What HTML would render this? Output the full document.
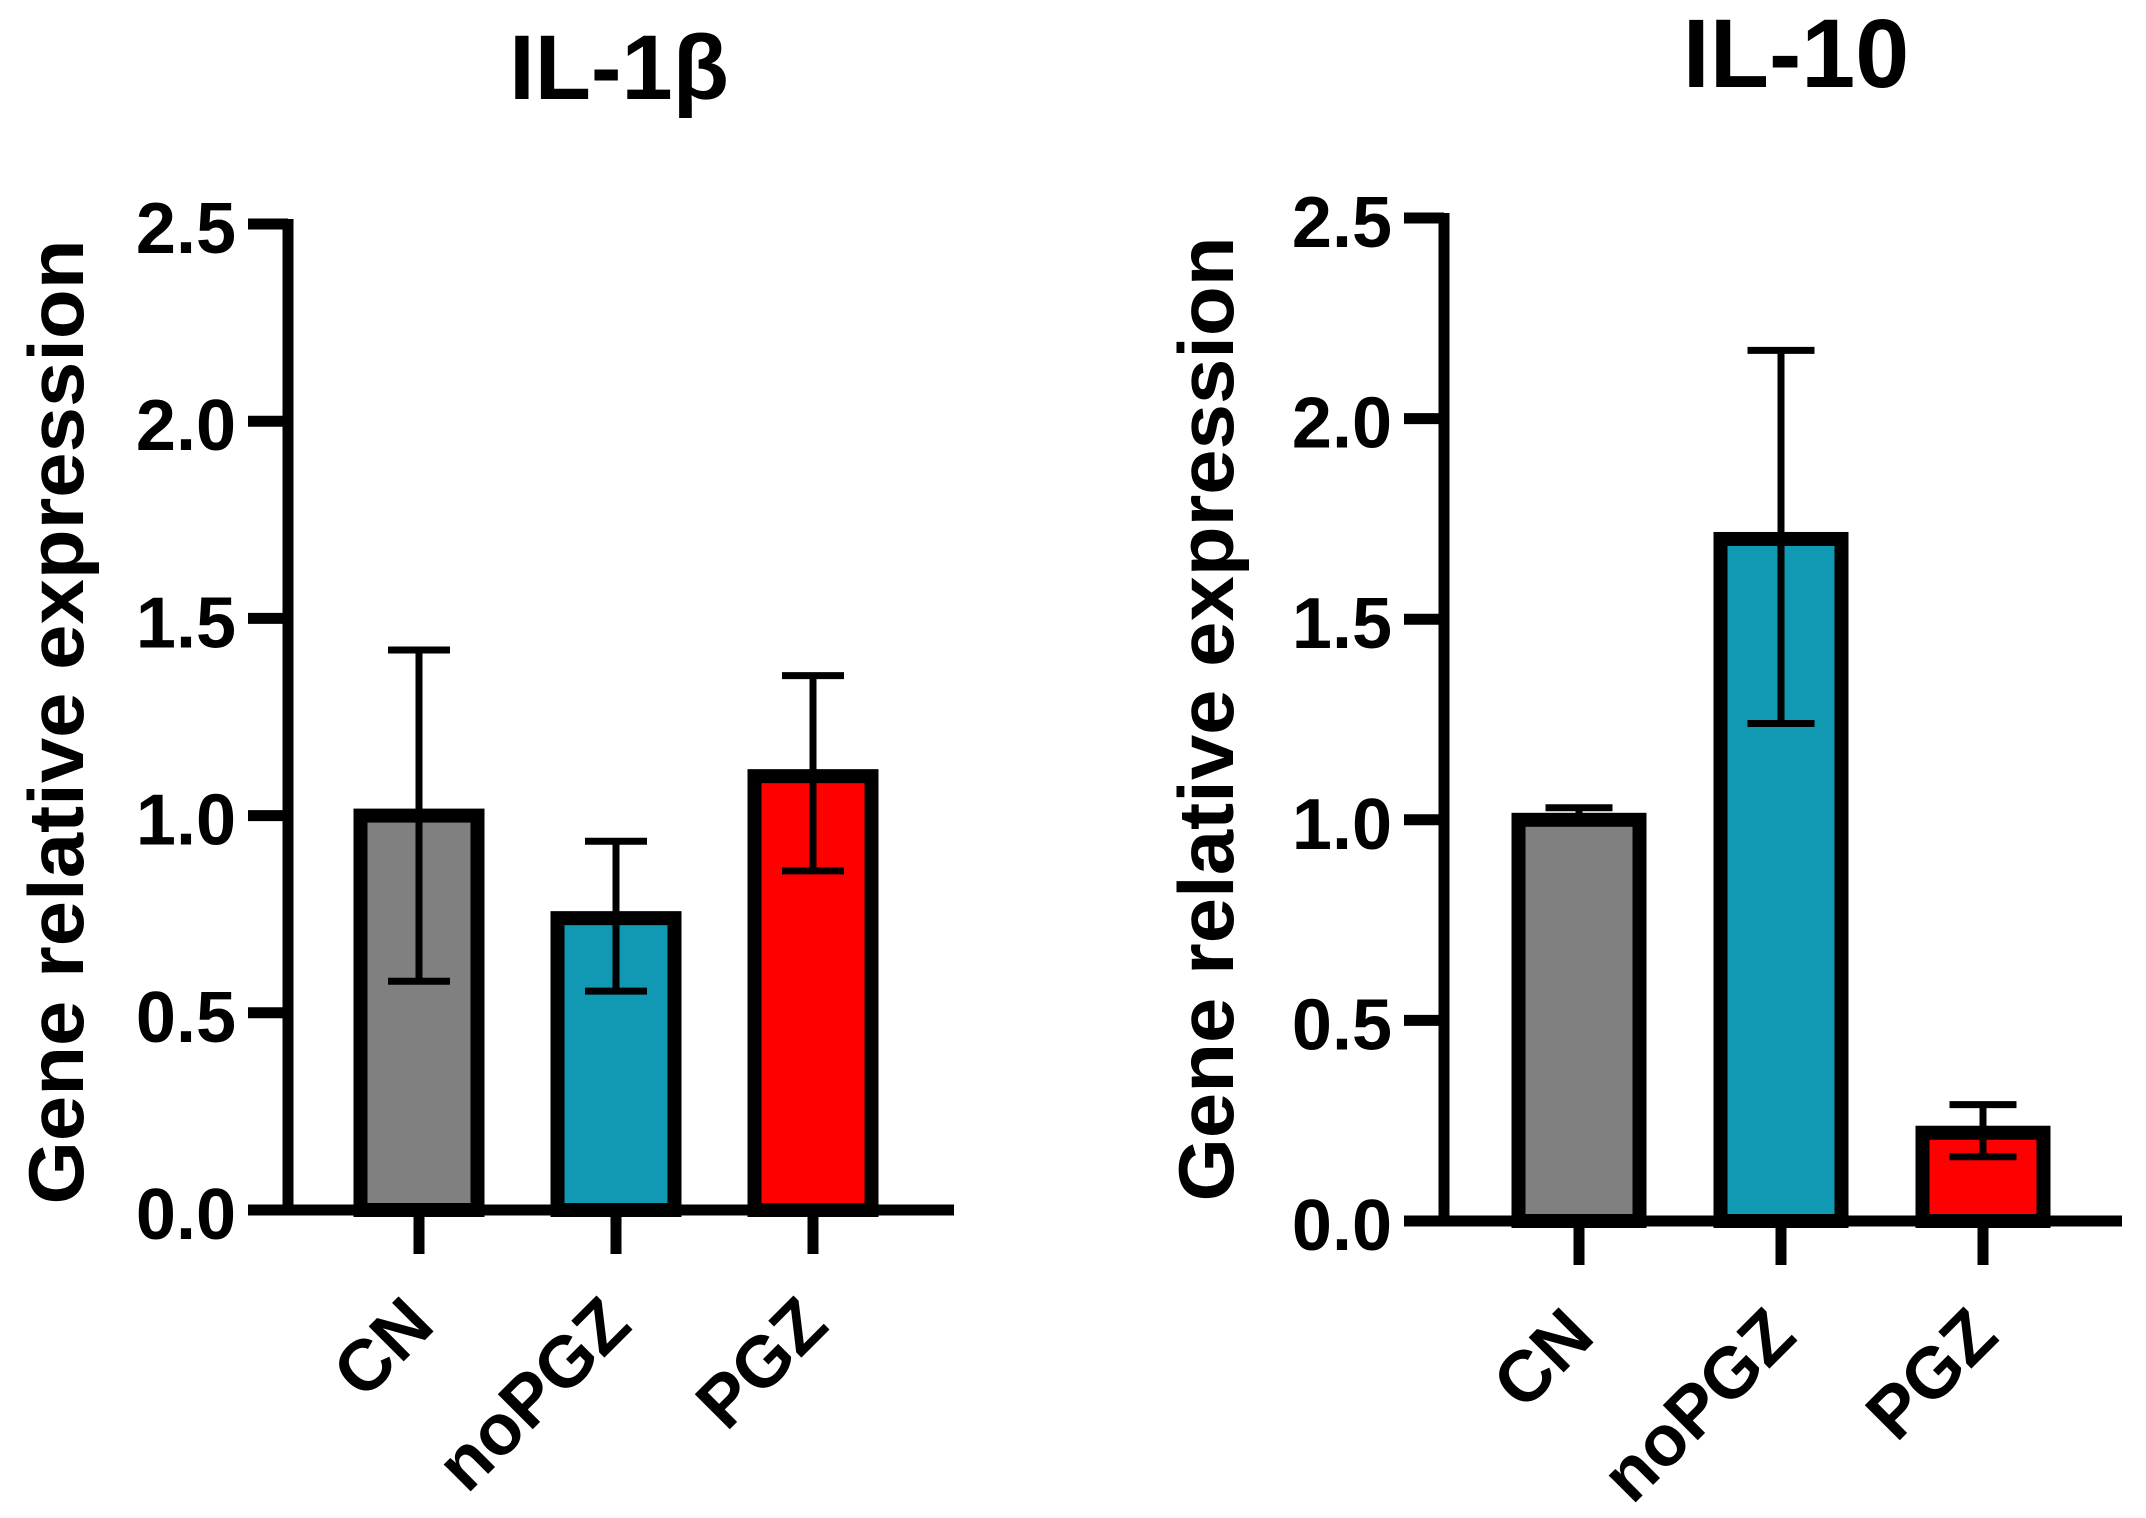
<!DOCTYPE html>
<html><head><meta charset="utf-8"><style>
html,body{margin:0;padding:0;background:#fff;}
svg{display:block;}
text{font-family:"Liberation Sans",Arial,sans-serif;font-weight:bold;fill:#000;}
</style></head><body>
<svg id="svg" width="2146" height="1518" viewBox="0 0 2146 1518" xmlns="http://www.w3.org/2000/svg"></svg>
<script>
const categories = ["CN","noPGZ","PGZ"];
const il1bMeans = [1.0, 0.74, 1.1];
const il1bLow = [0.58, 0.555, 0.86];
const il1bHigh = [1.42, 0.935, 1.355];
const il10Means = [1.0, 1.7, 0.22];
const il10Low = [1.0, 1.24, 0.16];
const il10High = [1.03, 2.17, 0.29];
const yTicks = [0, 0.5, 1.0, 1.5, 2.0, 2.5];
const yTickLabels = ["0.0","0.5","1.0","1.5","2.0","2.5"];
const barColors = ["#808080","#1199b3","#ff0000"];

const NS = "http://www.w3.org/2000/svg";
const svg = document.getElementById("svg");
function mk(tag, attrs, parent){
  const e = document.createElementNS(NS, tag);
  for (const k in attrs) e.setAttribute(k, attrs[k]);
  (parent||svg).appendChild(e);
  return e;
}

function drawPanel(cfg){
  const g = mk("g", {});
  
  
  const y = v => cfg.y0 - (v/2.5)*(cfg.y0 - cfg.yTop);
  const x = i => cfg.xTicks0 + i*cfg.xStep;

  const t = mk("text", {x: cfg.titleX, y: cfg.titleY, "font-size": cfg.titleSize, "text-anchor":"middle"}, g);
  t.textContent = cfg.title;
  
  

  const yt = mk("text", {x:0, y:0, "font-size": 78, "text-anchor":"middle", textLength: 965, lengthAdjust:"spacingAndGlyphs",
    transform:`translate(${cfg.yTitleX},${cfg.yTitleY}) rotate(-90)`}, g);
  yt.textContent = "Gene relative expression";
  
  

  for (let i=0;i<categories.length;i++){
    const v = cfg.means[i];
    const r = mk("rect", {x: x(i)-cfg.barW/2, y: y(v), width: cfg.barW, height: y(0)-y(v),
      fill: barColors[i], stroke:"#000", "stroke-width": 14}, g);
    
    
  }
  for (let i=0;i<categories.length;i++){
    const eg = mk("g", {stroke:"#000", "stroke-width": 7}, g);
    
    
    mk("line", {x1:x(i), x2:x(i), y1:y(cfg.low[i]), y2:y(cfg.high[i])}, eg);
    mk("line", {x1:x(i)-cfg.capW/2, x2:x(i)+cfg.capW/2, y1:y(cfg.high[i]), y2:y(cfg.high[i])}, eg);
    if (cfg.low[i] < cfg.means[i]-0.001)
      mk("line", {x1:x(i)-cfg.capW/2, x2:x(i)+cfg.capW/2, y1:y(cfg.low[i]), y2:y(cfg.low[i])}, eg);
  }
  const ya = mk("g", {stroke:"#000", "stroke-width": 11}, g);
  
  
  mk("line", {x1:cfg.axisX, x2:cfg.axisX, y1:y(2.5)-5, y2:y(0)}, ya);
  for (let k=0;k<yTicks.length;k++){
    mk("line", {x1:cfg.axisX-40, x2:cfg.axisX, y1:y(yTicks[k]), y2:y(yTicks[k])}, ya);
    const lt = mk("text", {x: cfg.axisX-52, y: y(yTicks[k])+29, "font-size":72, "text-anchor":"end", stroke:"none"}, g);
    lt.textContent = yTickLabels[k];
    
    
  }
  const xa = mk("g", {stroke:"#000", "stroke-width": 11}, g);
  
  
  mk("line", {x1:cfg.axisX-40, x2:cfg.xEnd, y1:y(0), y2:y(0)}, xa);
  for (let i=0;i<categories.length;i++){
    mk("line", {x1:x(i), x2:x(i), y1:y(0), y2:y(0)+44}, xa);
    const xl = mk("text", {x:0, y:0, "font-size":72, "text-anchor":"end",
      transform:`translate(${x(i)+18},${y(0)+118}) rotate(-45)`}, g);
    xl.textContent = categories[i];
    
    
  }
}

drawPanel({id:"il1b", title:"IL-1β", titleX:619, titleY:99, titleSize:92,
  yTitleX:83, yTitleY:722, axisX:288, yTop:224, y0:1210, xTicks0:419, xStep:197,
  barW:117, capW:62, xEnd:954, means:il1bMeans, low:il1bLow, high:il1bHigh});
drawPanel({id:"il10", title:"IL-10", titleX:1796, titleY:87, titleSize:97,
  yTitleX:1233, yTitleY:719, axisX:1444, yTop:218, y0:1221, xTicks0:1579, xStep:202,
  barW:121, capW:67, xEnd:2122, means:il10Means, low:il10Low, high:il10High});
</script>
</body></html>
